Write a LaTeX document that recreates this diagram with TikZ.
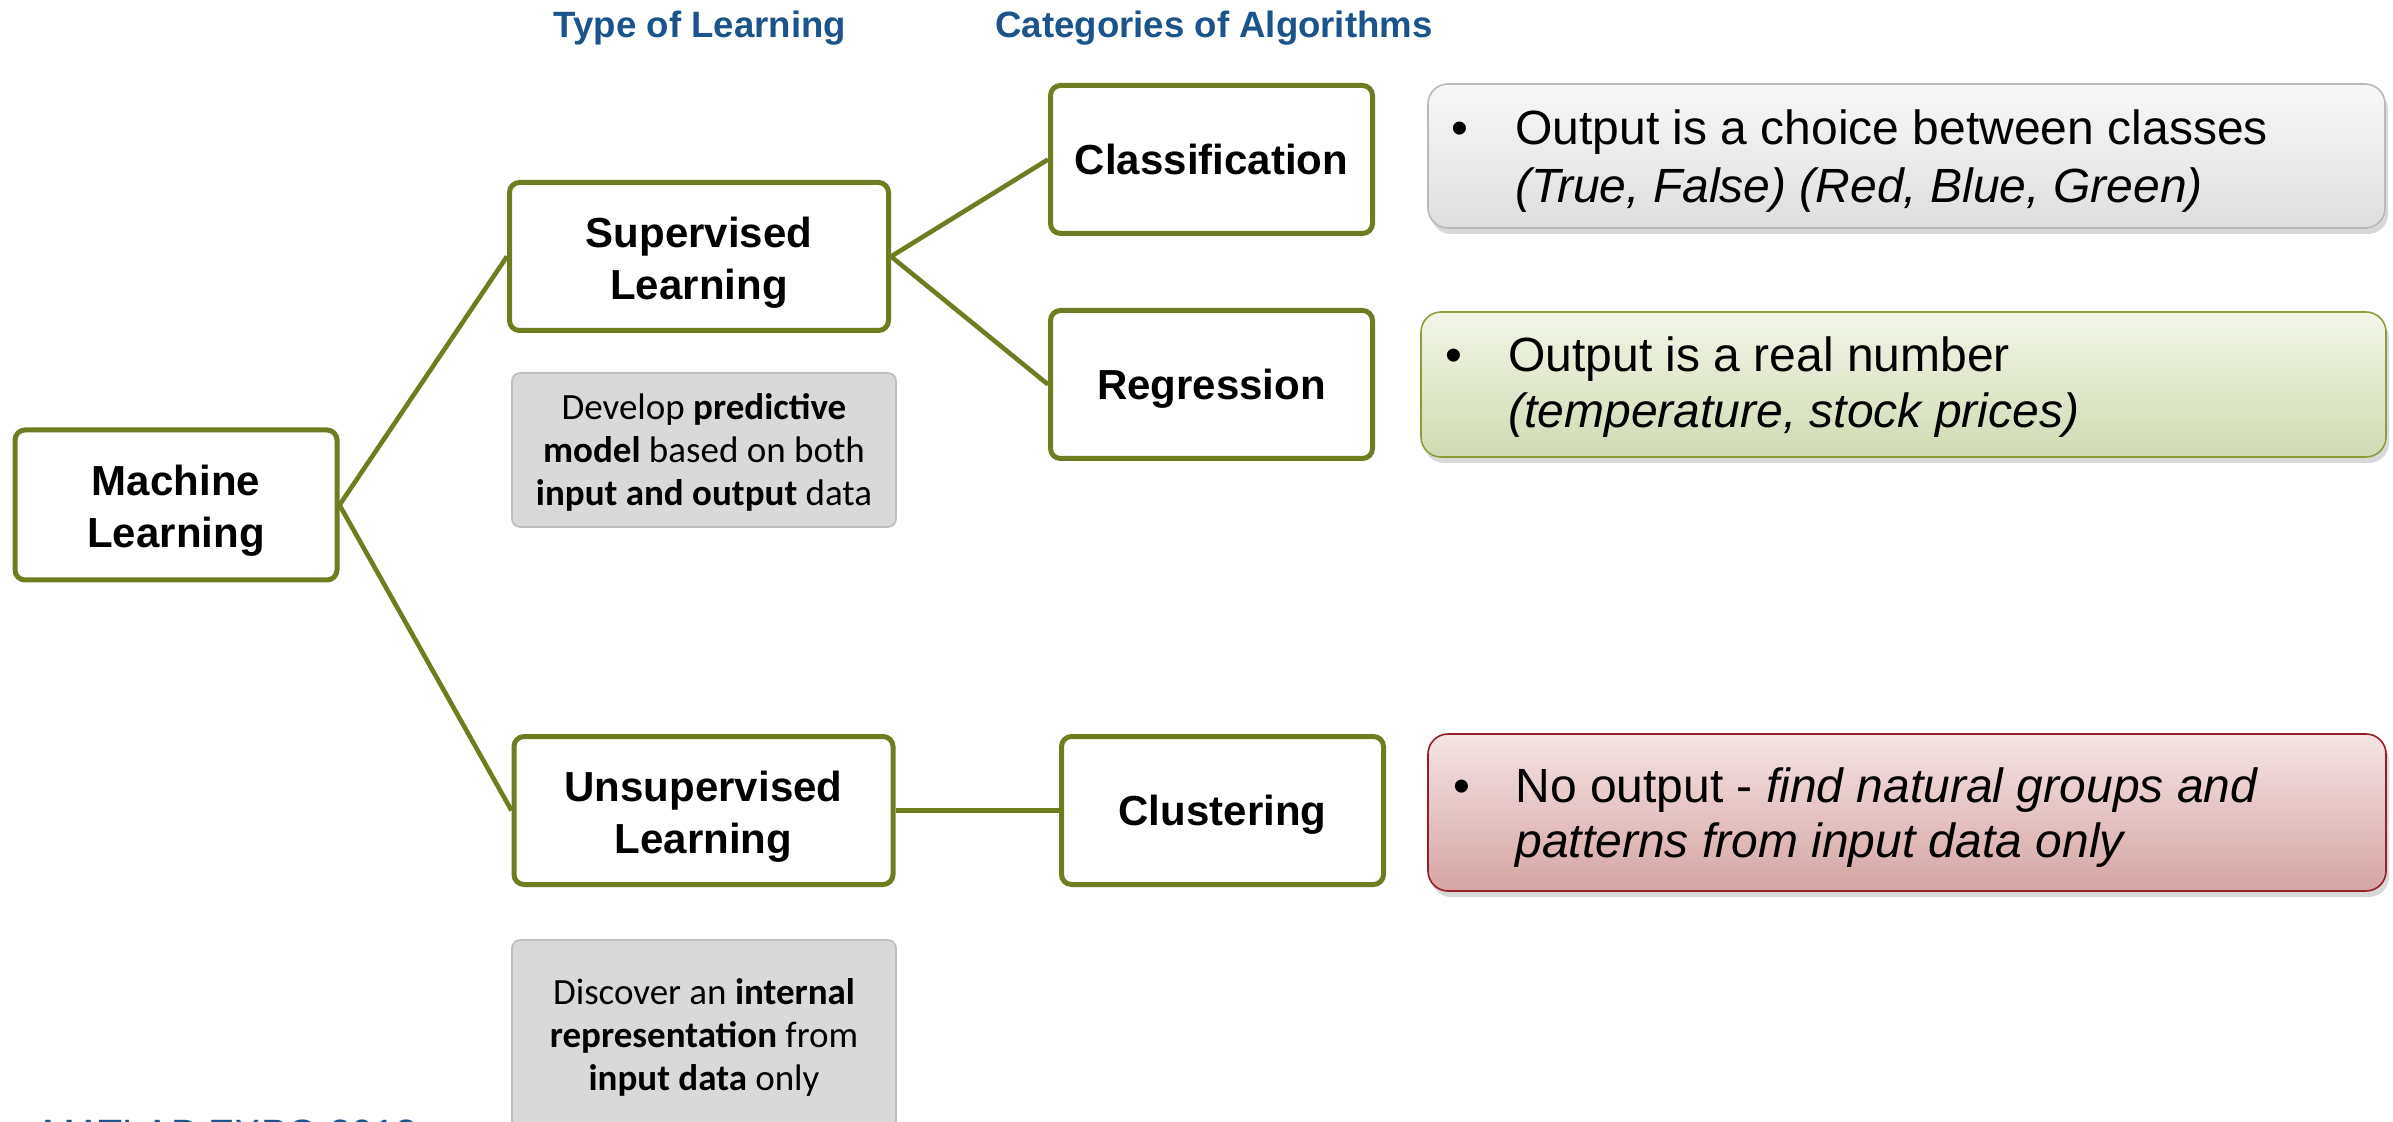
\documentclass[tikz,border=0pt]{standalone}
\usepackage{fontspec}
\setmainfont{Liberation Sans}
\newfontfamily\calib{Carlito}
\usetikzlibrary{shadows}
\definecolor{mlolive}{RGB}{112,124,32}
\definecolor{mlblue}{RGB}{26,84,138}
\definecolor{notefill}{RGB}{217,217,217}
\definecolor{noteline}{RGB}{190,190,190}
\newcommand\topstr{\rule{0pt}{0.905em}}
\newcommand\topstrm{\rule{0pt}{1.0em}}
\newcommand\botstr{\rule[-0.212em]{0pt}{0pt}}
\tikzset{
  lbox/.style={draw=mlolive, line width=2.5pt, rounded corners=5pt, fill=white,
    minimum width=161pt, minimum height=74pt, inner sep=0pt, align=center,
    font=\bfseries\fontsize{21}{26}\selectfont},
  conn/.style={draw=mlolive, line width=2.3pt},
  notebox/.style={draw=noteline, line width=0.8pt, fill=notefill, rounded corners=4pt,
    minimum width=192pt, inner sep=0pt},
  notetxt/.style={font=\calib\fontsize{18.5}{21.5}\selectfont, inner sep=0pt, anchor=base},
  hdr/.style={font=\bfseries\fontsize{18.3}{22}\selectfont, text=mlblue, inner sep=0pt},
  infobox/.style={rounded corners=10pt, line width=0.8pt, inner sep=0pt,
    drop shadow={shadow xshift=1.5pt, shadow yshift=-3pt, opacity=0.3}},
  itxt/.style={font=\fontsize{24}{29}\selectfont, inner sep=0pt},
}
\begin{document}
\begin{tikzpicture}[x=0.5pt,y=-0.5pt]
\useasboundingbox (0,0) rectangle (2393,1122);
\fill[white] (0,0) rectangle (2393,1122);

% headers
\node[hdr, anchor=base] (h1) at (700,38) {Type of Learning};
\node[hdr, anchor=base] (h2) at (1214,38) {Categories of Algorithms};

% main boxes
\node[lbox, minimum width=161pt, minimum height=75pt] (ml) at (176,505) {\topstrm Machine\\Learning\botstr};
\node[lbox, minimum width=189.5pt, minimum height=74pt] (sup) at (699,256.5) {\topstrm Supervised\\Learning\botstr};
\node[lbox, minimum width=189.5pt, minimum height=74pt] (uns) at (703.5,810.5) {\topstrm Unsupervised\\Learning\botstr};
\node[lbox] (cls) at (1211.5,159.5) {\topstr Classification\botstr};
\node[lbox] (reg) at (1211.5,384.5) {\topstr Regression\botstr};
\node[lbox] (clu) at (1222.5,810.5) {\topstr Clustering\botstr};

% note boxes
\node[notebox, minimum height=77pt] (n1) at (704,450) {};
\node[notetxt] (n1a) at (704,420) {Develop \textbf{predictive}};
\node[notetxt] (n1b) at (704,463) {\textbf{model} based on both};
\node[notetxt] (n1c) at (704,506) {\textbf{input and output} data};
\node[notebox, minimum height=97pt] (n2) at (704,1037) {};
\node[notetxt] (n2a) at (704,1004) {Discover an \textbf{internal}};
\node[notetxt] (n2b) at (704,1047) {\textbf{representation} from};
\node[notetxt] (n2c) at (704,1090) {\textbf{input data} only};

% connectors
\draw[conn] (ml.east) -- (sup.west);
\draw[conn] (ml.east) -- (uns.west);
\draw[conn] (sup.east) -- (cls.west);
\draw[conn] (sup.east) -- (reg.west);
\draw[conn] (uns.east) -- (clu.west);

% info boxes
\node[infobox, draw={rgb,255:red,185;green,185;blue,185},
  top color={rgb,255:red,248;green,248;blue,248}, bottom color={rgb,255:red,222;green,222;blue,222},
  minimum width=478.5pt, minimum height=72pt] (ib1) at (1906.5,156) {};
\node[infobox, draw={rgb,255:red,140;green,158;blue,60},
  top color={rgb,255:red,242;green,245;blue,232}, bottom color={rgb,255:red,208;green,219;blue,178},
  minimum width=482.5pt, minimum height=72.5pt] (ib2) at (1903.5,384.5) {};
\node[infobox, draw={rgb,255:red,150;green,30;blue,40},
  top color={rgb,255:red,244;green,228;blue,228}, bottom color={rgb,255:red,214;green,164;blue,164},
  minimum width=479pt, minimum height=78.5pt] (ib3) at (1907,812.5) {};

\node[itxt, anchor=base] (b1) at (1460,145) {•};
\node[itxt, anchor=base west] (t1a) at (1515,145) {Output is a choice between classes};
\node[itxt, anchor=base west] (t1b) at (1515,203) {\itshape (True, False) (Red, Blue, Green)};

\node[itxt, anchor=base] (b2) at (1454,372) {•};
\node[itxt, anchor=base west] (t2a) at (1508,372) {Output is a real number};
\node[itxt, anchor=base west] (t2b) at (1508,428) {\itshape (temperature, stock prices)};

\node[itxt, anchor=base] (b3) at (1462,802) {•};
\node[itxt, anchor=base west] (t3a) at (1515,802) {No output - \itshape find natural groups and};
\node[itxt, anchor=base west] (t3b) at (1515,857) {\itshape patterns from input data only};

% footer (cut off at the lower edge)
\node[anchor=base west, inner sep=0pt, font=\fontsize{19.75}{24}\selectfont, text=mlblue] (expo) at (42,1147) {MATLAB EXPO 2018};
\end{tikzpicture}
\end{document}
